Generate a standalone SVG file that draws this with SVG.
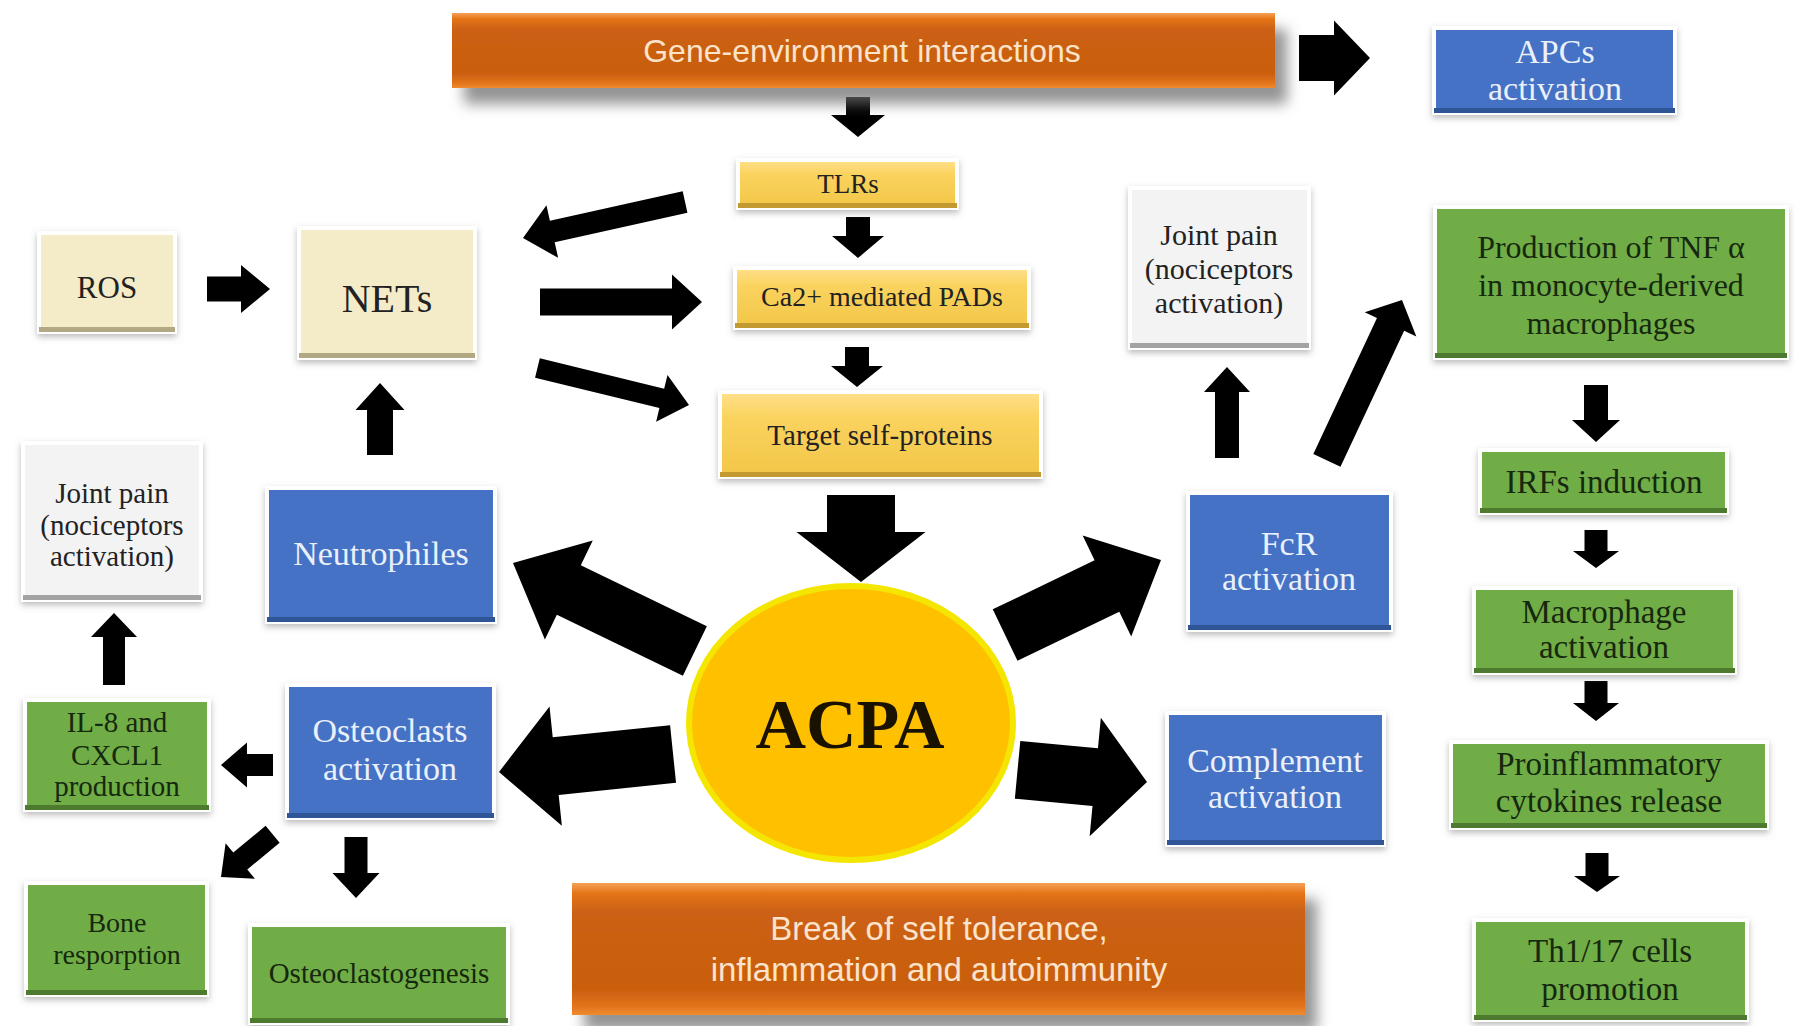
<svg xmlns="http://www.w3.org/2000/svg" width="1795" height="1026" viewBox="0 0 1795 1026">
<style>
.box{stroke:#ffffff;stroke-width:4;filter:url(#sh);}
.blue{fill:#4472C4;}
.green{fill:#70AD47;}
.yel{fill:url(#yg);}
.beige{fill:#F4EBC9;}
.white{fill:#F3F3F3;}
.orange{fill:url(#og);filter:url(#osh);}
.bb{fill:#2F5597;}
.gb{fill:#4E7A30;}
.yb{fill:#C39A32;}
.eb{fill:#B3A884;}
.wb{fill:#A3A3A3;}
.t{font-family:"Liberation Serif","Times New Roman",serif;text-anchor:middle;}
.w{fill:#EAF0FA;}
.d{fill:#222222;}
.g{fill:#16280D;}
.o{font-family:"Liberation Sans",Arial,sans-serif;text-anchor:middle;fill:#FBE3CC;}
</style>
<defs>
<filter id="sh" x="-15%" y="-15%" width="130%" height="140%">
<feDropShadow dx="0" dy="3" stdDeviation="3" flood-color="#7a7a7a" flood-opacity="0.5"/>
</filter>
<filter id="osh" x="-5%" y="-20%" width="115%" height="170%">
<feDropShadow dx="12" dy="16" stdDeviation="7" flood-color="#6f6f6f" flood-opacity="0.75"/>
</filter>
<linearGradient id="og" x1="0" y1="0" x2="0" y2="1">
<stop offset="0" stop-color="#F6A055"/>
<stop offset="0.08" stop-color="#E47418"/>
<stop offset="0.22" stop-color="#CB6112"/>
<stop offset="0.8" stop-color="#C95E10"/>
<stop offset="0.93" stop-color="#E2731A"/>
<stop offset="1" stop-color="#F08A30"/>
</linearGradient>
<linearGradient id="yg" x1="0" y1="0" x2="0" y2="1">
<stop offset="0" stop-color="#FFE08C"/>
<stop offset="0.3" stop-color="#FAD35E"/>
<stop offset="1" stop-color="#F2C648"/>
</linearGradient>
</defs>
<rect width="1795" height="1026" fill="#ffffff"/>

<g id="connectors" fill="#000000">
<polygon transform="translate(1370,58) rotate(0)" points="-71,-23 -36,-23 -36,-37.5 0,0 -36,37.5 -36,23 -71,23"/>
<polygon transform="translate(858,137) rotate(90)" points="-40,-12 -22,-12 -22,-27 0,0 -22,27 -22,12 -40,12"/>
<polygon transform="translate(858,258) rotate(90)" points="-41,-12 -22,-12 -22,-26 0,0 -22,26 -22,12 -41,12"/>
<polygon transform="translate(857,387) rotate(90)" points="-40,-12 -21,-12 -21,-26 0,0 -21,26 -21,12 -40,12"/>
<polygon transform="translate(861,582) rotate(90)" points="-87,-34 -50,-34 -50,-64.5 0,0 -50,64.5 -50,34 -87,34"/>
<polygon transform="translate(523,238) rotate(167.5)" points="-166,-11 -30,-11 -30,-27 0,0 -30,27 -30,11 -166,11"/>
<polygon transform="translate(270,289) rotate(0)" points="-63,-12.5 -29,-12.5 -29,-24 0,0 -29,24 -29,12.5 -63,12.5"/>
<polygon transform="translate(702,302) rotate(0)" points="-162,-13.5 -30,-13.5 -30,-27.5 0,0 -30,27.5 -30,13.5 -162,13.5"/>
<polygon transform="translate(689,405) rotate(13.7)" points="-156,-10 -28,-10 -28,-24 0,0 -28,24 -28,10 -156,10"/>
<polygon transform="translate(380,383) rotate(-90)" points="-72,-13 -27,-13 -27,-24.5 0,0 -27,24.5 -27,13 -72,13"/>
<polygon transform="translate(114,613) rotate(-90)" points="-72,-11 -24,-11 -24,-23 0,0 -24,23 -24,11 -72,11"/>
<polygon transform="translate(513,563) rotate(205.8)" points="-202,-27.5 -62,-27.5 -62,-55 0,0 -62,55 -62,27.5 -202,27.5"/>
<polygon transform="translate(1161,560) rotate(-25.7)" points="-173,-28.5 -60,-28.5 -60,-56 0,0 -60,56 -60,28.5 -173,28.5"/>
<polygon transform="translate(1227,367) rotate(-90)" points="-91,-12 -25,-12 -25,-23 0,0 -25,23 -25,12 -91,12"/>
<polygon transform="translate(1402,300) rotate(-64.9)" points="-177,-15 -27,-15 -27,-28.5 0,0 -27,28.5 -27,15 -177,15"/>
<polygon transform="translate(1596,442) rotate(90)" points="-57,-12 -22,-12 -22,-24 0,0 -22,24 -22,12 -57,12"/>
<polygon transform="translate(1596,568) rotate(90)" points="-38,-11.5 -17,-11.5 -17,-23 0,0 -17,23 -17,11.5 -38,11.5"/>
<polygon transform="translate(1596,721) rotate(90)" points="-40,-11.5 -18,-11.5 -18,-23 0,0 -18,23 -18,11.5 -40,11.5"/>
<polygon transform="translate(1597,892) rotate(90)" points="-39,-11.5 -16,-11.5 -16,-23 0,0 -16,23 -16,11.5 -39,11.5"/>
<polygon transform="translate(1147,782) rotate(5.4)" points="-130,-29 -52,-29 -52,-59.5 0,0 -52,59.5 -52,29 -130,29"/>
<polygon transform="translate(499,772) rotate(174.1)" points="-175,-29 -57,-29 -57,-60 0,0 -57,60 -57,29 -175,29"/>
<polygon transform="translate(221,765) rotate(180)" points="-52,-11 -26,-11 -26,-22.5 0,0 -26,22.5 -26,11 -52,11"/>
<polygon transform="translate(221,877) rotate(140.4)" points="-67,-11 -25,-11 -25,-23 0,0 -25,23 -25,11 -67,11"/>
<polygon transform="translate(356,898) rotate(90)" points="-61,-11.5 -25,-11.5 -25,-23.5 0,0 -25,23.5 -25,11.5 -61,11.5"/>
</g>

<g id="n-gene">
<rect class="orange" x="452" y="13" width="823" height="75"/>
<text class="o" x="862" y="62" font-size="32">Gene-environment interactions</text>
</g>

<g id="n-apcs">
<rect class="box blue" x="1434" y="28" width="241" height="85"/>
<rect class="bb" x="1434" y="108" width="241" height="5"/>
<text class="t w" x="1555" y="63" font-size="34">APCs</text>
<text class="t w" x="1555" y="100" font-size="34">activation</text>
</g>

<g id="n-tlrs">
<rect class="box yel" x="738" y="160" width="219" height="48"/>
<rect class="yb" x="738" y="203" width="219" height="5"/>
<text class="t d" x="848" y="193" font-size="27">TLRs</text>
</g>

<g id="n-pads">
<rect class="box yel" x="735" y="268" width="294" height="60"/>
<rect class="yb" x="735" y="323" width="294" height="5"/>
<text class="t d" x="882" y="306" font-size="28">Ca2+ mediated PADs</text>
</g>

<g id="n-target">
<rect class="box yel" x="720" y="392" width="321" height="85"/>
<rect class="yb" x="720" y="472" width="321" height="5"/>
<text class="t d" x="880" y="445" font-size="29">Target self-proteins</text>
</g>

<g id="n-ros">
<rect class="box beige" x="39" y="233" width="136" height="99"/>
<rect class="eb" x="39" y="327" width="136" height="5"/>
<text class="t d" x="107" y="298" font-size="31">ROS</text>
</g>

<g id="n-nets">
<rect class="box beige" x="299" y="228" width="176" height="130"/>
<rect class="eb" x="299" y="353" width="176" height="5"/>
<text class="t d" x="387" y="312" font-size="40">NETs</text>
</g>

<g id="n-neutro">
<rect class="box blue" x="267" y="488" width="228" height="134"/>
<rect class="bb" x="267" y="617" width="228" height="5"/>
<text class="t w" x="381" y="565" font-size="34">Neutrophiles</text>
</g>

<g id="n-jointpain-left">
<rect class="box white" x="23" y="443" width="178" height="157"/>
<rect class="wb" x="23" y="595" width="178" height="5"/>
<text class="t d" x="112" y="503" font-size="29">Joint pain</text>
<text class="t d" x="112" y="535" font-size="29">(nociceptors</text>
<text class="t d" x="112" y="566" font-size="29">activation)</text>
</g>

<g id="n-il8">
<rect class="box green" x="25" y="700" width="184" height="110"/>
<rect class="gb" x="25" y="805" width="184" height="5"/>
<text class="t g" x="117" y="732" font-size="29">IL-8 and</text>
<text class="t g" x="117" y="765" font-size="29">CXCL1</text>
<text class="t g" x="117" y="796" font-size="29">production</text>
</g>

<g id="n-osteo">
<rect class="box blue" x="287" y="685" width="207" height="133"/>
<rect class="bb" x="287" y="813" width="207" height="5"/>
<text class="t w" x="390" y="742" font-size="34">Osteoclasts</text>
<text class="t w" x="390" y="780" font-size="34">activation</text>
</g>

<g id="n-bone">
<rect class="box green" x="26" y="883" width="181" height="112"/>
<rect class="gb" x="26" y="990" width="181" height="5"/>
<text class="t g" x="117" y="932" font-size="28">Bone</text>
<text class="t g" x="117" y="964" font-size="28">resporption</text>
</g>

<g id="n-osteogen">
<rect class="box green" x="250" y="925" width="258" height="98"/>
<rect class="gb" x="250" y="1018" width="258" height="5"/>
<text class="t g" x="379" y="983" font-size="29">Osteoclastogenesis</text>
</g>

<g id="n-break">
<rect class="orange" x="572" y="883" width="733" height="132"/>
<text class="o" x="939" y="940" font-size="33">Break of self tolerance,</text>
<text class="o" x="939" y="981" font-size="33">inflammation and autoimmunity</text>
</g>

<g id="n-acpa">
<ellipse cx="851" cy="723" rx="162" ry="137" fill="#FFC000" stroke="#F4E600" stroke-width="6"/>
<text x="850" y="748" font-family="Liberation Serif, Times New Roman, serif" font-weight="bold" font-size="70" text-anchor="middle" fill="#1a1200">ACPA</text>
</g>

<g id="n-complement">
<rect class="box blue" x="1167" y="713" width="217" height="132"/>
<rect class="bb" x="1167" y="840" width="217" height="5"/>
<text class="t w" x="1275" y="772" font-size="34">Complement</text>
<text class="t w" x="1275" y="808" font-size="34">activation</text>
</g>

<g id="n-fcr">
<rect class="box blue" x="1188" y="493" width="203" height="137"/>
<rect class="bb" x="1188" y="625" width="203" height="5"/>
<text class="t w" x="1289" y="555" font-size="34">FcR</text>
<text class="t w" x="1289" y="590" font-size="34">activation</text>
</g>

<g id="n-jointpain-right">
<rect class="box white" x="1130" y="188" width="179" height="160"/>
<rect class="wb" x="1130" y="343" width="179" height="5"/>
<text class="t d" x="1219" y="245" font-size="30">Joint pain</text>
<text class="t d" x="1219" y="279" font-size="30">(nociceptors</text>
<text class="t d" x="1219" y="313" font-size="30">activation)</text>
</g>

<g id="n-tnf">
<rect class="box green" x="1435" y="207" width="352" height="151"/>
<rect class="gb" x="1435" y="353" width="352" height="5"/>
<text class="t g" x="1611" y="258" font-size="32">Production of TNF α</text>
<text class="t g" x="1611" y="296" font-size="32">in monocyte-derived</text>
<text class="t g" x="1611" y="334" font-size="32">macrophages</text>
</g>

<g id="n-irfs">
<rect class="box green" x="1480" y="450" width="247" height="63"/>
<rect class="gb" x="1480" y="508" width="247" height="5"/>
<text class="t g" x="1604" y="493" font-size="33">IRFs induction</text>
</g>

<g id="n-macro">
<rect class="box green" x="1474" y="588" width="261" height="85"/>
<rect class="gb" x="1474" y="668" width="261" height="5"/>
<text class="t g" x="1604" y="623" font-size="33">Macrophage</text>
<text class="t g" x="1604" y="658" font-size="33">activation</text>
</g>

<g id="n-proinfl">
<rect class="box green" x="1451" y="742" width="316" height="86"/>
<rect class="gb" x="1451" y="823" width="316" height="5"/>
<text class="t g" x="1609" y="775" font-size="33">Proinflammatory</text>
<text class="t g" x="1609" y="812" font-size="33">cytokines release</text>
</g>

<g id="n-th1">
<rect class="box green" x="1474" y="920" width="273" height="100"/>
<rect class="gb" x="1474" y="1015" width="273" height="5"/>
<text class="t g" x="1610" y="962" font-size="33">Th1/17 cells</text>
<text class="t g" x="1610" y="1000" font-size="33">promotion</text>
</g>
</svg>
